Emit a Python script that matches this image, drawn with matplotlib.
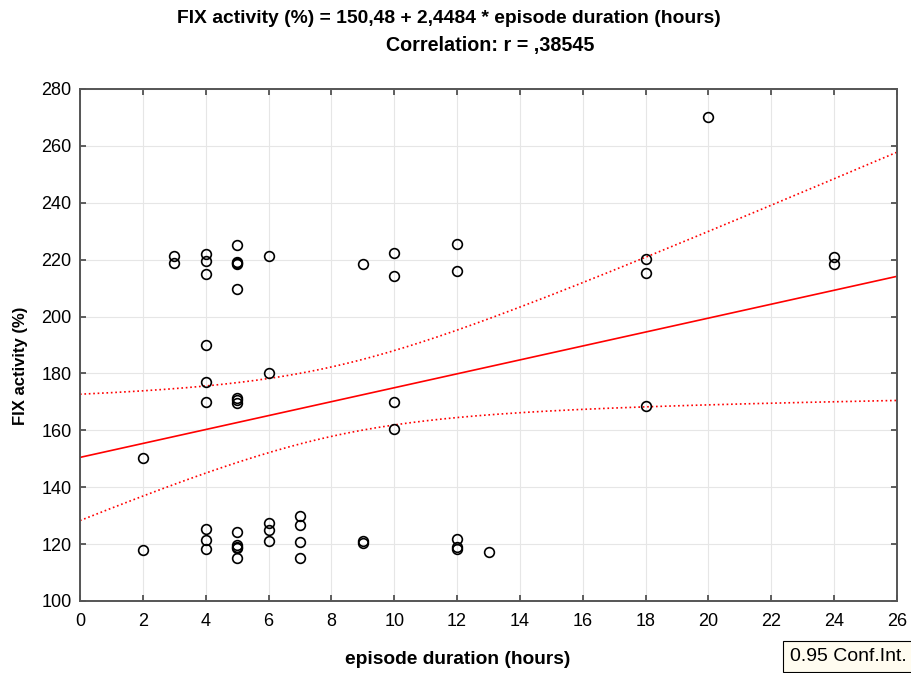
import numpy as np
import matplotlib
matplotlib.use("Agg")
import matplotlib.pyplot as plt

plt.rcParams['font.family'] = ['Liberation Sans', 'DejaVu Sans']

# episode duration (hours) and FIX activity (%) per patient
duration = [2, 2,
            3, 3,
            4, 4, 4, 4, 4, 4, 4, 4, 4,
            5, 5, 5, 5, 5, 5, 5, 5, 5, 5, 5, 5, 5,
            6, 6, 6, 6, 6,
            7, 7, 7, 7,
            9, 9, 9,
            10, 10, 10, 10,
            12, 12, 12, 12, 12,
            13,
            18, 18, 18,
            20,
            24, 24]
fix_activity = [150.3, 117.9,
                221.3, 218.7,
                221.9, 219.5, 214.8, 190.0, 176.9, 170.0, 125.3, 121.4, 118.3,
                225.1, 219.3, 218.7, 218.4, 209.7, 171.5, 170.7, 169.6,
                124.1, 119.7, 119.1, 118.5, 115.0,
                221.4, 180.0, 127.3, 124.9, 121.2,
                129.9, 126.7, 120.8, 115.0,
                218.5, 121.1, 120.3,
                222.2, 214.2, 170.1, 160.3,
                225.5, 216.0, 121.7, 119.1, 118.2,
                117.3,
                220.2, 215.2, 168.6,
                270.3,
                220.8, 218.5]

intercept = 150.48
slope = 2.4484
r_value = 0.38545

x = np.array(duration, dtype=float)
y = np.array(fix_activity, dtype=float)
n = len(x)

# 95% confidence band of the regression line
xs = np.linspace(0, 26, 200)
fit = intercept + slope * xs
resid = y - (intercept + slope * x)
s = np.sqrt(np.sum(resid ** 2) / (n - 2))
sxx = np.sum((x - x.mean()) ** 2)
t_crit = 2.007
half = t_crit * s * np.sqrt(1.0 / n + (xs - x.mean()) ** 2 / sxx)

fig = plt.figure(figsize=(9.12, 6.73), dpi=100)
ax = fig.add_axes([0.0877, 0.107, 0.8959, 0.7608])

ax.plot(x, y, 'o', mfc='none', mec='black', ms=7, mew=1.2, zorder=3)
ax.plot(xs, fit, color='red', lw=1.2, zorder=2)
ax.plot(xs, fit + half, color='red', lw=1.2, ls=':', zorder=2)
ax.plot(xs, fit - half, color='red', lw=1.2, ls=':', zorder=2)

ax.set_xlim(0, 26)
ax.set_ylim(100, 280)
ax.set_xticks(np.arange(0, 27, 2))
ax.set_yticks(np.arange(100, 281, 20))
ax.grid(True, color='#e6e6e6', lw=0.8)
ax.set_axisbelow(True)
ax.tick_params(direction='in', top=True, right=True, length=4, width=1.2,
               color='#444444', labelsize=13, pad=6)
ax.tick_params(axis='x', pad=9)
for sp in ax.spines.values():
    sp.set_color('#555555')
    sp.set_linewidth(1.4)

ax.set_xlabel('episode duration (hours)', fontsize=13.8, fontweight='bold')
ax.set_ylabel('FIX activity (%)', fontsize=12, fontweight='bold')
ax.xaxis.set_label_coords(0.462, -0.098)
ax.yaxis.set_label_coords(-0.064, 0.46)

fig.text(0.492, 0.973,
         'FIX activity (%%) = %s + %s * episode duration (hours)'
         % (f'{intercept:.2f}'.replace('.', ','), f'{slope:.4f}'.replace('.', ',')),
         ha='center', va='center', fontsize=13.9, fontweight='bold')
fig.text(0.537, 0.932, 'Correlation: r = ' + f'{r_value:.5f}'.replace('0.', ','),
         ha='center', va='center', fontsize=14.2, fontweight='bold')

fig.text(0.866, 0.012, '0.95 Conf.Int.', ha='left', va='bottom', fontsize=14,
         bbox=dict(boxstyle='square,pad=0.35', fc='#fffcf0', ec='black', lw=0.8))

fig.savefig('out.png', dpi=100)
